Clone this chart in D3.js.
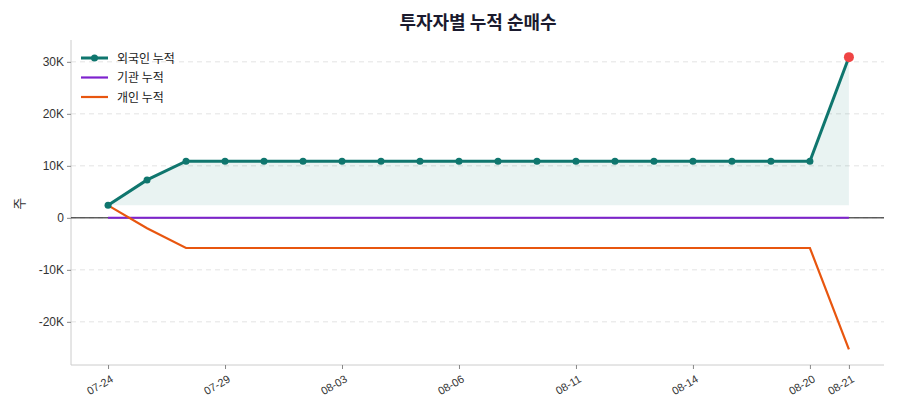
<!DOCTYPE html>
<html><head><meta charset="utf-8">
<script src="https://cdn.jsdelivr.net/npm/d3@7"></script>
<style>body{margin:0;background:#fff;font-family:"Noto Sans CJK KR","Noto Sans",sans-serif}</style>
</head><body>
<svg id="chart" width="900" height="420"></svg>
<script>
const dates = ['07-24','07-25','07-28','07-29','07-30','07-31','08-03','08-04','08-05','08-06',
  '08-07','08-08','08-11','08-12','08-13','08-14','08-18','08-19','08-20','08-21'];
const foreign = [2400,7300,10900,10900,10900,10900,10900,10900,10900,10900,
  10900,10900,10900,10900,10900,10900,10900,10900,10900,30900];
const institution = dates.map(() => 0);
const individual = [2400,-2000,-5800,-5800,-5800,-5800,-5800,-5800,-5800,-5800,
  -5800,-5800,-5800,-5800,-5800,-5800,-5800,-5800,-5800,-25300];
const tickIdx = [0,3,6,9,12,15,18,19];
const yTicks = [-20000,-10000,0,10000,20000,30000];

const svg = d3.select('#chart');
const margin = {top: 40, right: 16, bottom: 55, left: 71};
const W = 900, H = 420;
const x = d3.scaleLinear().domain([-0.95, 19.9]).range([margin.left, W - margin.right]);
const y = d3.scaleLinear().domain([-28300, 34200]).range([H - margin.bottom, margin.top]);

svg.append('text').attr('x', 478).attr('y', 29).attr('text-anchor', 'middle')
  .attr('font-size', 18).attr('font-weight', 'bold').attr('fill', '#1a1a2e').text('투자자별 누적 순매수');

// grid
svg.append('g').selectAll('line').data(yTicks).enter().append('line')
  .attr('x1', margin.left).attr('x2', W - margin.right)
  .attr('y1', d => y(d)).attr('y2', d => y(d))
  .attr('stroke', '#e3e3e3').attr('stroke-dasharray', '5,4');

// axes frame
svg.append('line').attr('x1', margin.left).attr('x2', margin.left).attr('y1', margin.top).attr('y2', H - margin.bottom).attr('stroke', '#ccc');
svg.append('line').attr('x1', margin.left).attr('x2', W - margin.right).attr('y1', H - margin.bottom).attr('y2', H - margin.bottom).attr('stroke', '#ccc');

const fmt = d => d === 0 ? '0' : (d / 1000) + 'K';
const ya = svg.append('g').attr('transform', `translate(${margin.left},0)`)
  .call(d3.axisLeft(y).tickValues(yTicks).tickFormat(fmt).tickSize(4));
ya.select('.domain').remove();
ya.selectAll('text').attr('font-size', 12).attr('fill', '#333');
ya.selectAll('line').attr('stroke', '#888');

const xa = svg.append('g').attr('transform', `translate(0,${H - margin.bottom})`)
  .call(d3.axisBottom(x).tickValues(tickIdx).tickFormat(i => dates[i]).tickSize(4));
xa.select('.domain').remove();
xa.selectAll('line').attr('stroke', '#888');
xa.selectAll('text').attr('font-size', 11).attr('fill', '#333')
  .attr('text-anchor', 'end').attr('transform', 'rotate(-30)').attr('dx', '-0.3em').attr('dy', '0.9em');

svg.append('text').attr('transform', `translate(24,${y(0) - 14}) rotate(-90)`)
  .attr('text-anchor', 'middle').attr('font-size', 13).attr('fill', '#333').text('주');

// zero line
svg.append('line').attr('x1', margin.left).attr('x2', W - margin.right)
  .attr('y1', y(0)).attr('y2', y(0)).attr('stroke', '#111').attr('stroke-width', 1);

// area
svg.append('path').datum(foreign)
  .attr('d', d3.area().x((d, i) => x(i)).y0(y(foreign[0])).y1(d => y(d)))
  .attr('fill', '#0f766e').attr('fill-opacity', 0.09);

const line = d3.line().x((d, i) => x(i)).y(d => y(d));
svg.append('path').datum(institution).attr('d', line).attr('fill', 'none').attr('stroke', '#7e22ce').attr('stroke-width', 2);
svg.append('path').datum(individual).attr('d', line).attr('fill', 'none').attr('stroke', '#e8560f').attr('stroke-width', 2.2);
svg.append('path').datum(foreign).attr('d', line).attr('fill', 'none').attr('stroke', '#0f766e').attr('stroke-width', 3);
svg.append('g').selectAll('circle').data(foreign).enter().append('circle')
  .attr('cx', (d, i) => x(i)).attr('cy', d => y(d))
  .attr('r', (d, i) => i === foreign.length - 1 ? 5 : 3.5)
  .attr('fill', (d, i) => i === foreign.length - 1 ? '#ef4444' : '#0f766e');

// legend
const legend = [['외국인 누적', '#0f766e', true], ['기관 누적', '#7e22ce', false], ['개인 누적', '#e8560f', false]];
legend.forEach(([t, c, dot], k) => {
  const ly = 58 + k * 19.5;
  svg.append('line').attr('x1', 81).attr('x2', 108).attr('y1', ly).attr('y2', ly).attr('stroke', c).attr('stroke-width', dot ? 3 : 2.2);
  if (dot) svg.append('circle').attr('cx', 94.5).attr('cy', ly).attr('r', 3.5).attr('fill', c);
  svg.append('text').attr('x', 117).attr('y', ly + 4.5).attr('font-size', 12).attr('fill', '#222').text(t);
});
</script>
</body></html>
